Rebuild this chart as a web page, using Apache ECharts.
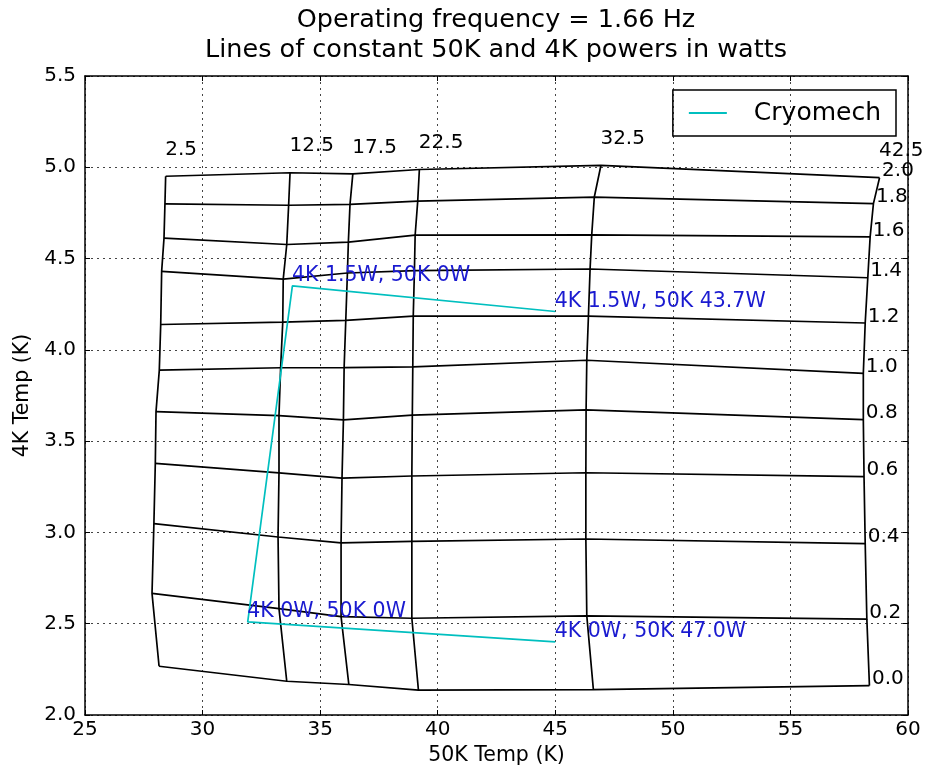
<!DOCTYPE html>
<html>
<head>
<meta charset="utf-8">
<script src="https://cdn.jsdelivr.net/npm/echarts@6/dist/echarts.min.js"></script>
<style>
html,body{margin:0;padding:0;background:#fff;}
#chart{width:925px;height:771px;}
</style>
</head>
<body>
<div id="chart"></div>
<script>
// Powers labelling the contour lines
const power50K = ['2.5', '12.5', '17.5', '22.5', '32.5', '42.5'];
const power4K = ['0.0', '0.2', '0.4', '0.6', '0.8', '1.0', '1.2', '1.4', '1.6', '1.8', '2.0'];

// 50K temperature at each grid node: rows = 4K power, columns = 50K power
const temp50K = [
  [28.15, 33.58, 36.22, 39.18, 46.62, 58.36],
  [27.85, 33.25, 35.89, 38.90, 46.34, 58.25],
  [27.93, 33.21, 35.89, 38.90, 46.30, 58.18],
  [27.99, 33.25, 35.93, 38.90, 46.30, 58.13],
  [28.02, 33.25, 35.99, 38.92, 46.31, 58.10],
  [28.16, 33.32, 36.02, 38.94, 46.34, 58.10],
  [28.22, 33.41, 36.09, 38.96, 46.41, 58.18],
  [28.26, 33.43, 36.16, 39.01, 46.48, 58.29],
  [28.36, 33.58, 36.20, 39.04, 46.55, 58.39],
  [28.40, 33.66, 36.27, 39.15, 46.66, 58.53],
  [28.43, 33.72, 36.39, 39.22, 46.94, 58.79]
];
// 4K temperature at each grid node: rows = 4K power, columns = 50K power
const temp4K = [
  [2.267, 2.185, 2.167, 2.136, 2.139, 2.161],
  [2.666, 2.583, 2.539, 2.530, 2.543, 2.525],
  [3.048, 2.975, 2.943, 2.951, 2.964, 2.939],
  [3.378, 3.326, 3.297, 3.309, 3.327, 3.306],
  [3.662, 3.640, 3.616, 3.643, 3.671, 3.618],
  [3.889, 3.902, 3.903, 3.907, 3.943, 3.871],
  [4.139, 4.152, 4.161, 4.185, 4.185, 4.147],
  [4.430, 4.387, 4.421, 4.434, 4.443, 4.395],
  [4.612, 4.577, 4.590, 4.628, 4.630, 4.619],
  [4.800, 4.792, 4.797, 4.815, 4.837, 4.801],
  [4.951, 4.970, 4.964, 4.988, 5.010, 4.943]
];

// Cryomech load-map outline
const cryoX = [45.0, 33.82, 31.92, 45.0];
const cryoY = [4.21, 4.35, 2.51, 2.40];
const cryoLabels = ['4K 1.5W, 50K 43.7W', '4K 1.5W, 50K 0W', '4K 0W, 50K 0W', '4K 0W, 50K 47.0W'];

(function () {
const FONT = 'DejaVu Sans';
const series = [];
const lineStyle = { color: '#000', width: 1.7 };
const hidden = { color: 'rgba(0,0,0,0)', opacity: 1 };

// lines of constant 4K power
for (let i = 0; i < power4K.length; i++) {
  series.push({
    type: 'line', name: 'p4_' + power4K[i], symbol: 'none', silent: true,
    lineStyle: lineStyle, itemStyle: { color: '#000' }, z: 2,
    data: temp50K[i].map((x, j) => [x, temp4K[i][j]])
  });
}
// lines of constant 50K power
for (let j = 0; j < power50K.length; j++) {
  series.push({
    type: 'line', name: 'p50_' + power50K[j], symbol: 'none', silent: true,
    lineStyle: lineStyle, itemStyle: { color: '#000' }, z: 2,
    data: temp50K.map((row, i) => [row[j], temp4K[i][j]])
  });
}
// Cryomech
series.push({
  type: 'line', name: 'Cryomech', symbol: 'none', silent: true, z: 3,
  lineStyle: { color: '#00bfbf', width: 1.7 }, itemStyle: { color: '#00bfbf' },
  data: cryoX.map((x, k) => [x, cryoY[k]])
});
// labels of 50K power (top of each column)
const topRow = power4K.length - 1;
series.push({
  type: 'scatter', name: 'lab50', symbolSize: 1, silent: true, z: 4,
  itemStyle: hidden,
  label: { show: true, position: [0, 0], align: 'left', verticalAlign: 'bottom', offset: [0, -16],
    formatter: p => p.data.name, fontFamily: FONT, fontSize: 20, color: '#000', opacity: 1 },
  data: power50K.map((s, j) => ({ name: s, value: [temp50K[topRow][j], temp4K[topRow][j]] }))
});
// labels of 4K power (right end of each row)
const lastCol = power50K.length - 1;
series.push({
  type: 'scatter', name: 'lab4', symbolSize: 1, silent: true, z: 4,
  itemStyle: hidden,
  label: { show: true, position: [0, 0], align: 'left', verticalAlign: 'bottom', offset: [3, 4],
    formatter: p => p.data.name, fontFamily: FONT, fontSize: 20, color: '#000', opacity: 1 },
  data: power4K.map((s, i) => ({ name: s, value: [temp50K[i][lastCol], temp4K[i][lastCol]] }))
});
// Cryomech annotations
series.push({
  type: 'scatter', name: 'annot', symbolSize: 1, silent: true, z: 5,
  itemStyle: hidden,
  label: { show: true, position: [0, 0], align: 'left', verticalAlign: 'bottom', offset: [0, 1],
    formatter: p => p.data.name, fontFamily: FONT, fontSize: 20.5, color: '#1a1ad0', opacity: 1 },
  data: cryoLabels.map((s, k) => ({ name: s, value: [cryoX[k], cryoY[k]] }))
});

const axisLineStyle = { show: true, lineStyle: { color: '#000', width: 1.5 } };
const tick = { show: true, inside: true, length: 5, lineStyle: { color: '#000', width: 1 } };
const split = { show: true, lineStyle: { color: '#444', type: [2, 4], width: 1 } };

const option = {
  animation: false,
  backgroundColor: '#fff',
  title: {
    text: 'Operating frequency = 1.66 Hz\nLines of constant 50K and 4K powers in watts',
    left: 496, top: 5, textAlign: 'center',
    padding: 0,
    textStyle: { fontFamily: FONT, fontSize: 25.5, fontWeight: 'normal', color: '#000', lineHeight: 30 }
  },
  legend: {
    data: [{ name: 'Cryomech', icon: 'path://M0,0 L38,0 L38,2 L0,2 Z' }],
    right: 29, top: 90,
    itemWidth: 38, itemHeight: 2,
    borderColor: '#000', borderWidth: 1.5, borderRadius: 0,
    padding: [10, 15, 10, 16],
    textStyle: { fontFamily: FONT, fontSize: 25, color: '#000', padding: [0, 0, 0, 22], lineHeight: 26 }
  },
  grid: { left: 85, top: 76, right: 17, bottom: 53 },
  xAxis: [{
    type: 'value', min: 25, max: 60, interval: 5,
    name: '50K Temp (K)', nameLocation: 'middle', nameGap: 30,
    nameTextStyle: { fontFamily: FONT, fontSize: 20.5, color: '#000' },
    axisLine: axisLineStyle, axisTick: tick, splitLine: split,
    axisLabel: { fontFamily: FONT, fontSize: 20, color: '#000', margin: 5 }
  }, {
    type: 'value', min: 25, max: 60, interval: 5, position: 'top',
    axisLine: axisLineStyle, axisTick: tick, splitLine: { show: false }, axisLabel: { show: false }
  }],
  yAxis: [{
    type: 'value', min: 2, max: 5.5, interval: 0.5,
    name: '4K Temp (K)', nameLocation: 'middle', nameGap: 50,
    nameTextStyle: { fontFamily: FONT, fontSize: 20.5, color: '#000' },
    axisLine: axisLineStyle, axisTick: tick, splitLine: split,
    axisLabel: { fontFamily: FONT, fontSize: 20, color: '#000', margin: 9, formatter: v => v.toFixed(1) }
  }, {
    type: 'value', min: 2, max: 5.5, interval: 0.5, position: 'right',
    axisLine: axisLineStyle, axisTick: tick, splitLine: { show: false }, axisLabel: { show: false }
  }],
  series: series
};

const chart = echarts.init(document.getElementById('chart'), null, { renderer: 'canvas' });
chart.setOption(option);
})();
</script>
</body>
</html>
